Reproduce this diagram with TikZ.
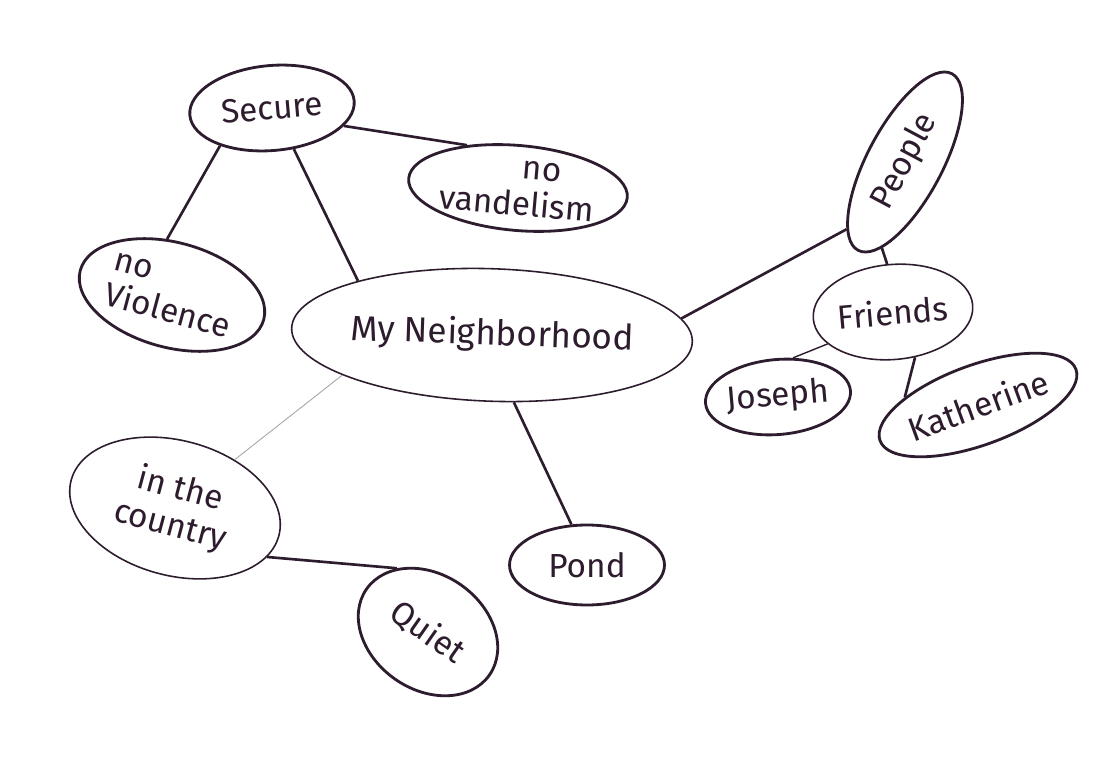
\documentclass[tikz,border=0pt]{standalone}
\usepackage{fontspec}
\setmainfont{Fira Sans}
\usetikzlibrary{shapes.geometric}
\definecolor{ink}{RGB}{45,28,45}
\begin{document}
\begin{tikzpicture}[x=0.02cm,y=-0.02cm]
    \tikzset{
        idea/.style={ellipse,draw=ink,line width=1.6pt,inner sep=0pt,
                     text=ink,font=\fontsize{19}{21}\selectfont,align=center},
        soft/.style={idea,line width=0.9pt},
        link/.style={draw=ink,line width=1.5pt},
        faint/.style={draw=gray!70,line width=0.5pt}
    }
    \useasboundingbox[fill=white] (0,0) rectangle (1117,784);

    % top left cluster
    \node[idea,minimum width=3.3cm,minimum height=1.7cm,rotate=5]   (secure)  at (272,108) {Secure};
    \node[idea,minimum width=3.8cm,minimum height=1.7cm,rotate=-5]  (vandal)  at (518,188) {\hspace*{0.9cm}no\\vandelism};
    \node[idea,minimum width=3.8cm,minimum height=2.1cm,rotate=-15,align=left] (violence) at (172,295) {no\\Violence};

    % centre
    \node[soft,minimum width=7.8cm,minimum height=2.65cm,rotate=-2,font=\fontsize{20}{22}\selectfont] (hood) at (492,335) {My Neighborhood};

    % right cluster
    \node[idea,minimum width=4cm,minimum height=1.5cm,rotate=62]    (people)  at (905,162) {People};
    \node[soft,minimum width=3.2cm,minimum height=1.9cm,rotate=5]   (friends) at (893,312) {Friends};
    \node[idea,minimum width=2.7cm,minimum height=1.5cm,rotate=5]   (joseph)  at (778,397) {Joseph};
    \node[idea,minimum width=3.6cm,minimum height=1.6cm,rotate=20]  (kath)    at (978,405) {Katherine};

    % bottom
    \node[soft,minimum width=4.3cm,minimum height=2.7cm,rotate=-15] (country) at (175,508) {in the\\country};
    \node[idea,minimum width=3.1cm,minimum height=1.6cm]            (pond)    at (587,565) {Pond};
    \node[idea,minimum width=3.0cm,minimum height=2.3cm,rotate=-35] (quiet)   at (428,632) {Quiet};

    \draw[link] (secure.-19)  -- (vandal.145)
                (secure.211)  -- (violence.110)
                (secure.-67)  -- (hood.160)
                (hood.7)      -- (people.167)
                (people.193)  -- (friends.92)
                (friends.291) -- (kath.154)
                (hood.290)    -- (pond.111)
                (country.347) -- (quiet.151);
    \draw[link,line width=0.8pt] (friends.201) -- (joseph.64);
    \draw[faint] (hood.197) -- (country.54);
\end{tikzpicture}
\end{document}
